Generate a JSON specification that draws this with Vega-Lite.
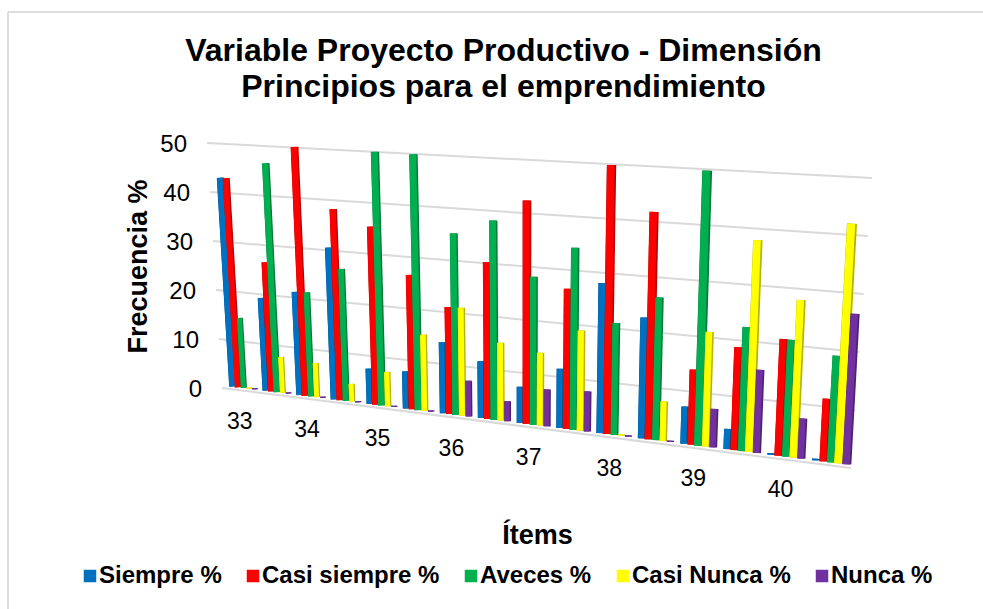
{
"$schema":"https://vega.github.io/schema/vega-lite/v6.json",
"width":975,"height":597,
"autosize":{"type":"none"},
"padding":{"left":8,"top":12,"right":0,"bottom":0},
"background":"white",
"view":{"stroke":null},
"config":{"font":"Liberation Sans","legend":{"gridAlign":"none"}},
"title":{"text":["Variable Proyecto Productivo - Dimensión","Principios para el emprendimiento"],"fontSize":32,"font":"Liberation Sans","fontWeight":"bold","color":"#000000","anchor":"middle","offset":-93,"dx":8,"lineHeight":36},
"datasets":{
"bars":[
{"group":1,"series":"Siempre %","value":42.5},{"group":1,"series":"Casi siempre %","value":42.5},{"group":1,"series":"Aveces %","value":14.2},{"group":1,"series":"Casi Nunca %","value":0.25},{"group":1,"series":"Nunca %","value":0.25},
{"group":2,"series":"Siempre %","value":18.7},{"group":2,"series":"Casi siempre %","value":26},{"group":2,"series":"Aveces %","value":46},{"group":2,"series":"Casi Nunca %","value":7.2},{"group":2,"series":"Nunca %","value":0.25},
{"group":3,"series":"Siempre %","value":20.6},{"group":3,"series":"Casi siempre %","value":49.6},{"group":3,"series":"Aveces %","value":20.7},{"group":3,"series":"Casi Nunca %","value":6.8},{"group":3,"series":"Nunca %","value":0.25},
{"group":4,"series":"Siempre %","value":30},{"group":4,"series":"Casi siempre %","value":37.7},{"group":4,"series":"Aveces %","value":26},{"group":4,"series":"Casi Nunca %","value":3.5},{"group":4,"series":"Nunca %","value":0.25},
{"group":5,"series":"Siempre %","value":6.9},{"group":5,"series":"Casi siempre %","value":34.8},{"group":5,"series":"Aveces %","value":49.5},{"group":5,"series":"Casi Nunca %","value":6.7},{"group":5,"series":"Nunca %","value":0.25},
{"group":6,"series":"Siempre %","value":7.2},{"group":6,"series":"Casi siempre %","value":26},{"group":6,"series":"Aveces %","value":49.4},{"group":6,"series":"Casi Nunca %","value":14.7},{"group":6,"series":"Nunca %","value":0.25},
{"group":7,"series":"Siempre %","value":13.6},{"group":7,"series":"Casi siempre %","value":20.5},{"group":7,"series":"Aveces %","value":34.7},{"group":7,"series":"Casi Nunca %","value":20.6},{"group":7,"series":"Nunca %","value":6.8},
{"group":8,"series":"Siempre %","value":10.8},{"group":8,"series":"Casi siempre %","value":29.7},{"group":8,"series":"Aveces %","value":37.7},{"group":8,"series":"Casi Nunca %","value":14.7},{"group":8,"series":"Nunca %","value":3.8},
{"group":9,"series":"Siempre %","value":6.8},{"group":9,"series":"Casi siempre %","value":41.9},{"group":9,"series":"Aveces %","value":27.7},{"group":9,"series":"Casi Nunca %","value":13.6},{"group":9,"series":"Nunca %","value":6.9},
{"group":10,"series":"Siempre %","value":11},{"group":10,"series":"Casi siempre %","value":26},{"group":10,"series":"Aveces %","value":33.7},{"group":10,"series":"Casi Nunca %","value":18.5},{"group":10,"series":"Nunca %","value":7.4},
{"group":11,"series":"Siempre %","value":27.6},{"group":11,"series":"Casi siempre %","value":49.4},{"group":11,"series":"Aveces %","value":20.5},{"group":11,"series":"Casi Nunca %","value":0.25},{"group":11,"series":"Nunca %","value":0.25},
{"group":12,"series":"Siempre %","value":22},{"group":12,"series":"Casi siempre %","value":41.3},{"group":12,"series":"Aveces %","value":25.9},{"group":12,"series":"Casi Nunca %","value":7.2},{"group":12,"series":"Nunca %","value":0.25},
{"group":13,"series":"Siempre %","value":6.7},{"group":13,"series":"Casi siempre %","value":13.5},{"group":13,"series":"Aveces %","value":49.3},{"group":13,"series":"Casi Nunca %","value":20.5},{"group":13,"series":"Nunca %","value":6.9},
{"group":14,"series":"Siempre %","value":3.6},{"group":14,"series":"Casi siempre %","value":18.3},{"group":14,"series":"Aveces %","value":22},{"group":14,"series":"Casi Nunca %","value":37.5},{"group":14,"series":"Nunca %","value":14.7},
{"group":15,"series":"Siempre %","value":0.3},{"group":15,"series":"Casi siempre %","value":20.5},{"group":15,"series":"Aveces %","value":20.5},{"group":15,"series":"Casi Nunca %","value":27.6},{"group":15,"series":"Nunca %","value":7},
{"group":16,"series":"Siempre %","value":0.3},{"group":16,"series":"Casi siempre %","value":10.9},{"group":16,"series":"Aveces %","value":18.5},{"group":16,"series":"Casi Nunca %","value":41.5},{"group":16,"series":"Nunca %","value":26}
],
"grid":[{"tick":0},{"tick":10},{"tick":20},{"tick":30},{"tick":40},{"tick":50}],
"items":[{"group":1,"item":"33"},{"group":3,"item":"34"},{"group":5,"item":"35"},{"group":7,"item":"36"},{"group":9,"item":"37"},{"group":11,"item":"38"},{"group":13,"item":"39"},{"group":15,"item":"40"}],
"frame":[{"edge":0}]
},
"layer":[
{"data":{"name":"frame"},"mark":{"type":"rule","color":"#dcdcdc","strokeWidth":2},
 "encoding":{"x":{"datum":8,"type":"quantitative","scale":{"domain":[8,983],"range":[0,975]},"axis":{"title":"Ítems","domain":false,"ticks":false,"labels":false,"grid":false,"titleFont":"Liberation Sans","titleFontSize":27,"titleFontWeight":"bold","titleColor":"#000000","titleX":529,"titleY":-74,"titleBaseline":"middle","titleAlign":"center"}}}},
{"data":{"name":"frame"},"mark":{"type":"rule","color":"#dcdcdc","strokeWidth":2},
 "encoding":{"y":{"datum":12,"type":"quantitative","scale":{"domain":[609,12],"range":[597,0]},"axis":{"title":"Frecuencia %","domain":false,"ticks":false,"labels":false,"grid":false,"titleFont":"Liberation Sans","titleFontSize":27,"titleFontWeight":"bold","titleColor":"#000000","titleX":130,"titleY":254,"titleAngle":-90,"titleBaseline":"middle","titleAlign":"center"}}}},
{"data":{"name":"grid"},
 "transform":[
  {"calculate":"222-15*datum.tick/50","as":"xl"},{"calculate":"851+21*datum.tick/50","as":"xr"},
  {"calculate":"388-245*datum.tick/50","as":"yl"},{"calculate":"468-290*datum.tick/50","as":"yr"}],
 "mark":{"type":"rule","color":"#d9d9d9","strokeWidth":2},
 "encoding":{
  "x":{"field":"xl","type":"quantitative","scale":{"domain":[8,983],"range":[0,975]}},
  "x2":{"field":"xr"},
  "y":{"field":"yl","type":"quantitative","scale":{"domain":[609,12],"range":[597,0]}},
  "y2":{"field":"yr"}}},
{"data":{"name":"grid"},
 "transform":[{"calculate":"222-15*datum.tick/50-20","as":"xl"},{"calculate":"390-245*datum.tick/50","as":"yl"}],
 "mark":{"type":"text","align":"right","baseline":"middle","fontSize":24,"font":"Liberation Sans","color":"#000000"},
 "encoding":{"x":{"field":"xl","type":"quantitative","scale":{"domain":[8,983],"range":[0,975]}},"y":{"field":"yl","type":"quantitative","scale":{"domain":[609,12],"range":[597,0]}},"text":{"field":"tick","type":"quantitative"}}},
{"data":{"name":"items"},
 "transform":[
  {"calculate":"datum.group-1","as":"u"},
  {"calculate":"230+32.5*datum.u+0.42*datum.u*datum.u","as":"lft"},
  {"calculate":"datum.lft+0.3*(32.5+0.84*datum.u)","as":"xc"},
  {"calculate":"388+(datum.lft-222)*0.127+33","as":"yc"}],
 "mark":{"type":"text","align":"center","baseline":"middle","fontSize":23,"font":"Liberation Sans","color":"#000000"},
 "encoding":{"x":{"field":"xc","type":"quantitative","scale":{"domain":[8,983],"range":[0,975]}},"y":{"field":"yc","type":"quantitative","scale":{"domain":[609,12],"range":[597,0]}},"text":{"field":"item","type":"nominal"}}},
{"data":{"name":"bars"},
 "transform":[
  {"calculate":"indexof(['Siempre %','Casi siempre %','Aveces %','Casi Nunca %','Nunca %'],datum.series)","as":"si"},
  {"calculate":"datum.group-1+0.17*datum.si","as":"u"},
  {"calculate":"230+32.5*datum.u+0.42*datum.u*datum.u","as":"lft"},
  {"calculate":"0.17*(32.5+0.84*datum.u)","as":"w"},
  {"calculate":"datum.w*(1+0.35*datum.value/50)","as":"sw"},
  {"calculate":"datum.lft+datum.w/2","as":"xb"},
  {"calculate":"datum.xb+(-15+(datum.lft-222)*0.05)*datum.value/50","as":"xt"},
  {"calculate":"385.5+(datum.lft-222)*0.127","as":"yb"},
  {"calculate":"datum.yb-(245+(datum.lft-222)*0.0715)*datum.value/50","as":"yt"}],
 "mark":{"type":"rule"},
 "encoding":{
  "x":{"field":"xb","type":"quantitative","scale":{"domain":[8,983],"range":[0,975]}},"x2":{"field":"xt"},
  "y":{"field":"yb","type":"quantitative","scale":{"domain":[609,12],"range":[597,0]}},"y2":{"field":"yt"},
  "size":{"field":"sw","type":"quantitative","scale":null,"legend":null},
  "color":{"field":"series","type":"nominal","legend":null,"scale":{"domain":["Siempre %","Casi siempre %","Aveces %","Casi Nunca %","Nunca %"],"range":["#004f88","#b30000","#007a38","#b3b300","#4e2270"]}}}},
{"data":{"name":"bars"},
 "transform":[
  {"calculate":"indexof(['Siempre %','Casi siempre %','Aveces %','Casi Nunca %','Nunca %'],datum.series)","as":"si"},
  {"calculate":"datum.group-1+0.17*datum.si","as":"u"},
  {"calculate":"230+32.5*datum.u+0.42*datum.u*datum.u","as":"lft"},
  {"calculate":"0.17*(32.5+0.84*datum.u)","as":"w"},
  {"calculate":"0.8*datum.w*(1+0.35*datum.value/50)","as":"sw"},
  {"calculate":"datum.lft+0.4*datum.w","as":"xb"},
  {"calculate":"datum.xb+(-15+(datum.lft-222)*0.05)*datum.value/50","as":"xt"},
  {"calculate":"385.5+(datum.lft-222)*0.127","as":"yb"},
  {"calculate":"datum.yb-(245+(datum.lft-222)*0.0715)*datum.value/50","as":"yt"}],
 "mark":{"type":"rule"},
 "encoding":{
  "x":{"field":"xb","type":"quantitative","scale":{"domain":[8,983],"range":[0,975]}},"x2":{"field":"xt"},
  "y":{"field":"yb","type":"quantitative","scale":{"domain":[609,12],"range":[597,0]}},"y2":{"field":"yt"},
  "size":{"field":"sw","type":"quantitative","scale":null,"legend":null},
  "color":{"field":"series","type":"nominal","scale":{"domain":["Siempre %","Casi siempre %","Aveces %","Casi Nunca %","Nunca %"],"range":["#0070c0","#ff0000","#00b050","#ffff00","#7030a0"]},
   "legend":{"title":null,"orient":"none","legendX":70,"legendY":552,"direction":"horizontal","columns":5,"symbolType":"square","symbolSize":36,"symbolStrokeWidth":6.5,"labelFont":"Liberation Sans","labelFontSize":24,"labelFontWeight":"bold","labelColor":"#000000","labelLimit":400,"labelOffset":-3,"columnPadding":15,"padding":0,"gridAlign":"none"}}}}
],
"resolve":{"scale":{"color":"independent"}}
}
